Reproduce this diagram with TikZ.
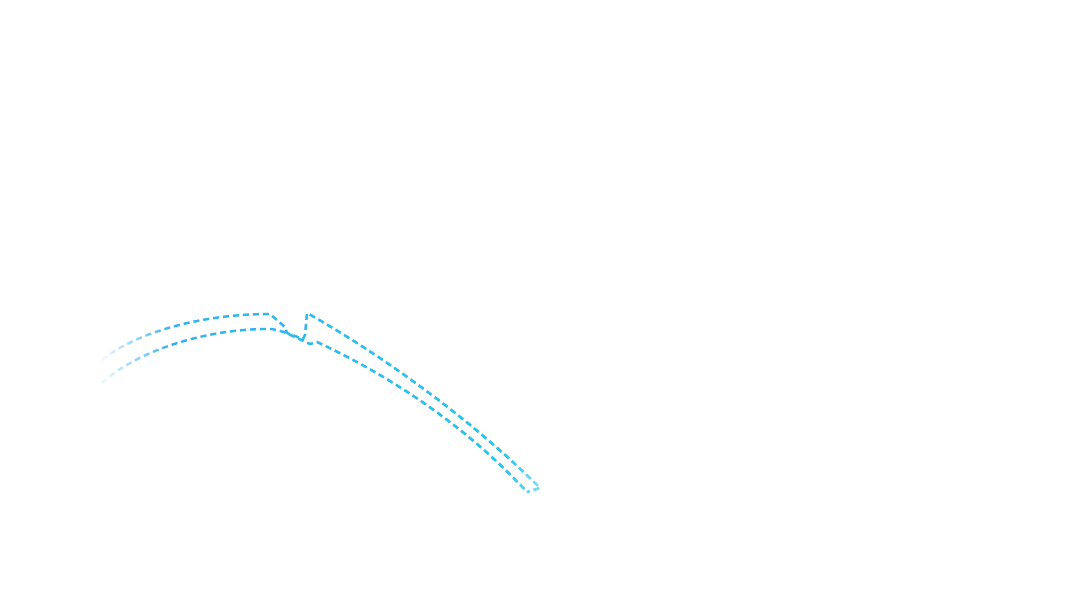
\documentclass[tikz,border=0pt]{standalone}
\usetikzlibrary{fadings}
\definecolor{hookblue}{HTML}{38ADF2}
\definecolor{hookcyan}{HTML}{22CCE8}
\tikzfading[name=fadeR, left color=transparent!100, right color=transparent!0]
\tikzfading[name=fadeL, left color=transparent!0, right color=transparent!100]
\tikzset{hookline/.style={line width=2.4pt, dash pattern=on 6pt off 4pt, line join=round}}
\begin{document}
\begin{tikzpicture}[x=1pt,y=-1pt]
\useasboundingbox (0,0) rectangle (1080,600);
\def\hookpath{%
  (102,360) .. controls (135,333) and (200,314) .. (270,314) -- (285,327) -- (287,333) -- (303,339) -- (305,335) -- (307,313)
  .. controls (380,354) and (470,418) .. (540,488) -- (527,492)
  (102,383) .. controls (135,352) and (205,328) .. (272,329) -- (284,332) -- (310,344) -- (317,342)
  .. controls (390,376) and (465,425) .. (527,492)}
\draw[hookline, hookblue] \hookpath;
\draw[hookline, hookcyan, path fading=fadeR] \hookpath;
% fade out the two ends
\fill[white, path fading=fadeL] (96,300) rectangle (172,400);
\fill[white, opacity=0.55, path fading=fadeR] (505,440) rectangle (550,500);
\end{tikzpicture}
\end{document}
